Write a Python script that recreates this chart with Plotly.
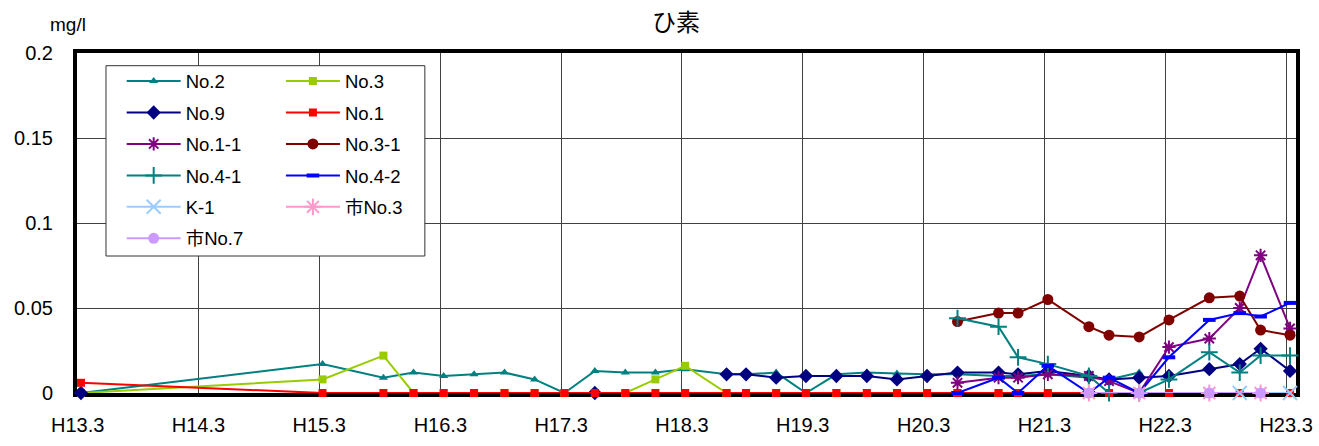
import plotly.graph_objects as go

# Sampling dates (quarterly survey, a few off-cycle visits)
dates = [
    "2001-03-11", "2003-03-11", "2003-09-11", "2003-12-11", "2004-03-11",
    "2004-06-11", "2004-09-11", "2004-12-11", "2005-03-11", "2005-06-11",
    "2005-09-11", "2005-12-11", "2006-03-11", "2006-07-14", "2006-09-11",
    "2006-12-11", "2007-03-11", "2007-06-11", "2007-09-11", "2007-12-11",
    "2008-03-11", "2008-06-11", "2008-10-13", "2008-12-11", "2009-03-11",
    "2009-07-13", "2009-09-12", "2009-12-12", "2010-03-12", "2010-07-12",
    "2010-10-12", "2010-12-14", "2011-03-13",
]
N = None

# Arsenic concentration (mg/l) per well
no2 = [0, 0.017, 0.009, 0.012, 0.010, 0.011, 0.012, 0.008, 0, 0.013,
       0.012, 0.012, 0.014, 0.011, 0.011, 0.012, 0, 0.011, 0.012, 0.0115,
       0.011, 0.011, 0.010, 0.010, 0.011, 0.009, 0.008, 0.012, N, N,
       N, N, N]
no3 = [0, 0.008, 0.022, 0, 0, 0, 0, 0, 0, 0,
       0, 0.008, 0.016, 0, 0, 0, 0, 0, 0, 0,
       0, 0, 0, 0, 0, N, N, N, N, N,
       N, N, N]
no9 = [0, N, N, N, N, N, N, N, N, 0,
       N, N, N, 0.011, 0.011, 0.009, 0.010, 0.010, 0.010, 0.008,
       0.010, 0.012, 0.012, 0.011, 0.013, 0.010, 0.008, 0.009, 0.010, 0.014,
       0.017, 0.026, 0.013]
no1 = [0.006, 0, 0, 0, 0, 0, 0, 0, 0, 0,
       0, 0, 0, 0, 0, 0, 0, 0, 0, 0,
       0, 0, 0, 0, 0, 0, 0, 0, 0, 0,
       0, 0, 0]
no1_1 = [N] * 21 + [0.006, 0.009, 0.009, 0.011, 0.010, 0.007, 0, 0.027,
                    0.032, 0.050, 0.081, 0.038]
no3_1 = [N] * 21 + [0.042, 0.047, 0.047, 0.055, 0.039, 0.034, 0.033, 0.043,
                    0.056, 0.057, 0.037, 0.034]
no4_1 = [N] * 21 + [0.044, 0.039, 0.021, 0.017, 0.010, 0, 0, 0.008,
                    0.024, 0.012, 0.022, 0.022]
no4_2 = [N] * 21 + [0, 0.009, 0, 0.016, 0, 0.009, 0, 0.021,
                    0.043, 0.047, 0.045, 0.053]
k1 = [N] * 30 + [0, N, 0]
shi_no3 = [N] * 25 + [0, N, 0, N, 0, N, 0, N]
shi_no7 = [N] * 25 + [0, N, 0, N, 0, N, 0, N]

tick_dates = ["%d-03-01" % y for y in range(2001, 2012)]
tick_text = ["H%d.3" % h for h in range(13, 24)]
y_ticks = [0, 0.05, 0.1, 0.15, 0.2]
y_text = ["0", "0.05", "0.1", "0.15", "0.2"]

FONT = "Liberation Sans, Arial, Noto Sans CJK JP, sans-serif"

# name, values, colour, symbol, size, marker line width, legend, gaps joined
series = [
    ("No.2", no2, "#008080", "triangle-up", 8, 0, "legend", True),
    ("No.3", no3, "#99CC00", "square", 8, 0, "legend2", True),
    ("No.9", no9, "#000080", "diamond", 11, 0, "legend", False),
    ("No.1", no1, "#FF0000", "square", 8, 0, "legend2", True),
    ("No.1-1", no1_1, "#800080", "asterisk-open", 11, 2, "legend", True),
    ("No.3-1", no3_1, "#800000", "circle", 11, 0, "legend2", True),
    ("No.4-1", no4_1, "#008080", "cross-thin-open", 12, 2, "legend", True),
    ("No.4-2", no4_2, "#0000FF", "line-ew-open", 9, 4, "legend2", True),
    ("K-1", k1, "#99CCFF", "x-thin-open", 14, 2, "legend", True),
    ("市No.3", shi_no3, "#FF99CC", "asterisk-open", 14, 2, "legend2", True),
    ("市No.7", shi_no7, "#CC99FF", "circle", 11, 0, "legend", True),
]

fig = go.Figure()
for name, vals, color, sym, size, mlw, leg, join in series:
    fig.add_trace(go.Scatter(
        x=dates, y=vals, name=name, mode="lines+markers",
        line=dict(color=color, width=2),
        marker=dict(symbol=sym, size=size, color=color,
                    line=dict(color=color, width=mlw)),
        connectgaps=join, cliponaxis=False,
        legend=leg, legendgroup=name,
    ))

# Figure geometry in pixels
W, H = 1319, 446
L, R, T, B = 77, 1296.5, 53, 393


def px_x(px):
    return (px - L) / (R - L)


def px_y(py):
    return (B - py) / (B - T)


leg_font = dict(family=FONT, size=18.5, color="black")
common_leg = dict(
    orientation="v", xanchor="left", yanchor="top", y=px_y(62.5),
    bgcolor="rgba(0,0,0,0)", borderwidth=0, font=leg_font,
    itemwidth=54, tracegroupgap=4.4,
)

axis_common = dict(
    showgrid=True, gridcolor="#404040", gridwidth=1,
    showline=True, linecolor="black", linewidth=4, mirror=True,
    zeroline=False, ticks="", layer="below traces", fixedrange=True,
    automargin=False,
    tickfont=dict(family=FONT, size=20, color="black"),
)

fig.update_layout(
    width=W, height=H, autosize=False,
    margin=dict(l=L, r=W - R, t=T, b=H - B, pad=0),
    paper_bgcolor="white", plot_bgcolor="white",
    showlegend=True,
    legend=dict(x=px_x(121.7), **common_leg),
    legend2=dict(x=px_x(281), **common_leg),
    xaxis=dict(type="date", range=["2001-02-27", "2011-03-31"],
               tickvals=tick_dates, ticktext=tick_text,
               ticklabelstandoff=11, **axis_common),
    yaxis=dict(range=[0, 0.2], tickvals=y_ticks, ticktext=y_text,
               ticklabelstandoff=16, **axis_common),
    shapes=[
        # legend frame
        dict(type="rect", xref="paper", yref="paper",
             x0=px_x(106), x1=px_x(425), y0=px_y(256), y1=px_y(65.7),
             line=dict(color="#333333", width=1), fillcolor="white",
             layer="above"),
    ],
    annotations=[
        dict(text="ひ素", xref="paper", yref="paper",
             x=px_x(676), y=px_y(22), xanchor="center", yanchor="middle",
             showarrow=False, font=dict(family=FONT, size=24, color="black")),
        dict(text="mg/l", xref="paper", yref="paper",
             x=px_x(68), y=px_y(24), xanchor="center", yanchor="middle",
             showarrow=False, font=dict(family=FONT, size=19, color="black")),
    ],
)

fig.write_html("out.html")
